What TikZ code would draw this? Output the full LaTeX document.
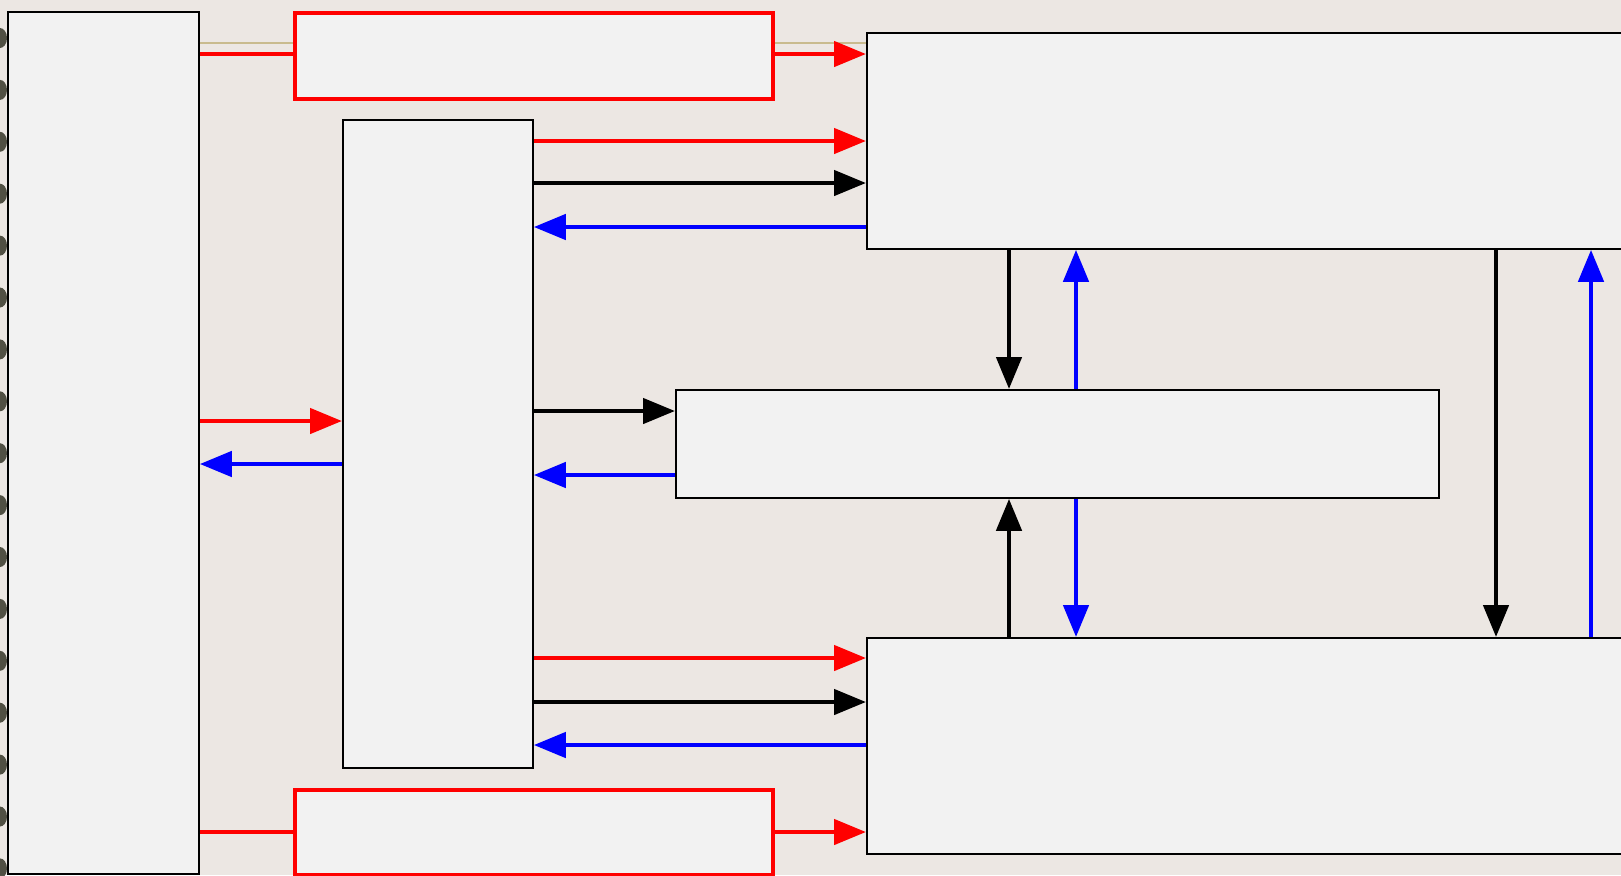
\documentclass[tikz,border=0pt]{standalone}
\usetikzlibrary{arrows.meta}
\definecolor{bgbeige}{HTML}{ECE7E3}
\definecolor{boxgray}{HTML}{F2F2F2}
\definecolor{tanline}{HTML}{C9BB8E}
\definecolor{blobdark}{HTML}{2A2A1C}
\begin{document}
\begin{tikzpicture}[x=0.5pt,y=-0.5pt,
    box/.style={draw=black, line width=0.9pt, fill=boxgray, anchor=north west, inner sep=0pt},
    redbox/.style={box, draw=red, line width=2.2pt},
    flow/.style={line width=2.3pt, -{Triangle[length=16pt,width=12.5pt]}}]
  % background
  \fill[bgbeige] (0,0) rectangle (1621,875);
  \useasboundingbox (0,0) rectangle (1621,875);
  \clip (0,0) rectangle (1621,875);
  % marks along the left edge
  \foreach \k in {0,...,16}
    \fill[blobdark, opacity=0.8] (0,{38+51.9*\k}) ellipse (7 and 10);
  % blocks
  \node[box, minimum width=95.5pt, minimum height=431pt] (L) at (7,11) {};
  \node[redbox, minimum width=239pt, minimum height=43pt] (R1) at (293,11) {};
  \node[redbox, minimum width=239pt, minimum height=42.5pt] (R2) at (293,788) {};
  \node[box, minimum width=95pt, minimum height=324pt] (M1) at (342,119) {};
  \node[box, minimum width=420pt, minimum height=108pt] (RT) at (866,32) {};
  \node[box, minimum width=381.5pt, minimum height=54pt] (MW) at (675,389) {};
  \node[box, minimum width=420pt, minimum height=108pt] (RB) at (866,637) {};
  % thin tan line along the top
  \draw[tanline, line width=0.75pt] (L.east |- 0,43) -- (R1.west |- 0,43);
  \draw[tanline, line width=0.75pt] (R1.east |- 0,43) -- (RT.west |- 0,43);
  % red paths through the red blocks
  \draw[red, line width=2.3pt] (L.east |- 0,54) -- (R1.west |- 0,54);
  \draw[flow, red] (R1.east |- 0,54) -- (RT.west |- 0,54);
  \draw[red, line width=2.3pt] (L.east |- 0,832) -- (R2.west |- 0,832);
  \draw[flow, red] (R2.east |- 0,832) -- (RB.west |- 0,832);
  % left block and middle block
  \draw[flow, red] (L.east |- 0,421) -- (M1.west |- 0,421);
  \draw[flow, blue] (M1.west |- 0,464) -- (L.east |- 0,464);
  % middle block to top right block
  \draw[flow, red] (M1.east |- 0,141) -- (RT.west |- 0,141);
  \draw[flow, black] (M1.east |- 0,183) -- (RT.west |- 0,183);
  \draw[flow, blue] (RT.west |- 0,227) -- (M1.east |- 0,227);
  % middle block to wide block
  \draw[flow, black] (M1.east |- 0,411) -- (MW.west |- 0,411);
  \draw[flow, blue] (MW.west |- 0,475) -- (M1.east |- 0,475);
  % middle block to bottom right block
  \draw[flow, red] (M1.east |- 0,658) -- (RB.west |- 0,658);
  \draw[flow, black] (M1.east |- 0,702) -- (RB.west |- 0,702);
  \draw[flow, blue] (RB.west |- 0,745) -- (M1.east |- 0,745);
  % vertical links
  \draw[flow, black] (RT.south -| 1009,0) -- (MW.north -| 1009,0);
  \draw[flow, blue] (MW.north -| 1076,0) -- (RT.south -| 1076,0);
  \draw[flow, black] (RB.north -| 1009,0) -- (MW.south -| 1009,0);
  \draw[flow, blue] (MW.south -| 1076,0) -- (RB.north -| 1076,0);
  \draw[flow, black] (RT.south -| 1496,0) -- (RB.north -| 1496,0);
  \draw[flow, blue] (RB.north -| 1591,0) -- (RT.south -| 1591,0);
\end{tikzpicture}
\end{document}
